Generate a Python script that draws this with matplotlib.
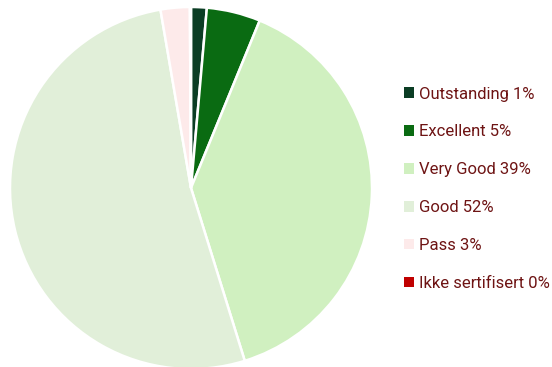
import matplotlib
matplotlib.use("Agg")
import matplotlib.pyplot as plt
from matplotlib.patches import Patch

categories = ["Outstanding", "Excellent", "Very Good", "Good", "Pass", "Ikke sertifisert"]
values = [1.4, 4.8, 39.0, 52.1, 2.6, 0.1]
labels_pct = ["1%", "5%", "39%", "52%", "3%", "0%"]
colors = ["#0b3d24", "#0a6b12", "#d0f0c0", "#e1efd9", "#fdeaea", "#c00000"]
text_color = "#6e1414"

fig = plt.figure(figsize=(5.52, 3.67), dpi=100)
ax = fig.add_axes([10/552, -2/367, 362/552, 362/367])
ax.pie(values, colors=colors, startangle=90, counterclock=False,
       wedgeprops=dict(edgecolor="white", linewidth=1.8))
ax.set_xlim(-1, 1)
ax.set_ylim(-1, 1)
ax.set_aspect("equal")
ax.axis("off")

handles = [Patch(facecolor=c, edgecolor="none") for c in colors]
labels = [f"{c} {p}" for c, p in zip(categories, labels_pct)]
leg = fig.legend(handles, labels, loc="upper left", bbox_to_anchor=(397/552, 1 - 80/367),
                 frameon=False, labelspacing=1.37, handlelength=0.6,
                 handleheight=0.6, handletextpad=0.3, borderaxespad=0,
                 prop={"family": "Roboto", "size": 12})
for t in leg.get_texts():
    t.set_color(text_color)

fig.savefig("out.png", dpi=100)
